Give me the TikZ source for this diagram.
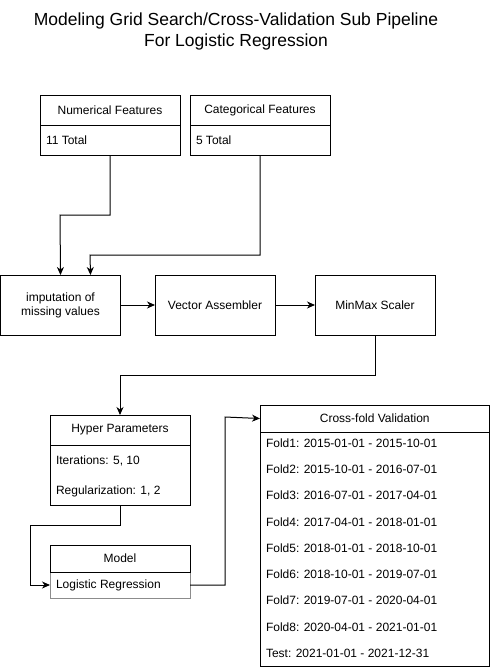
\documentclass[tikz,border=0pt]{standalone}
\usepackage{fontspec}
\setmainfont{Liberation Sans}
\usetikzlibrary{arrows.meta,calc}
\begin{document}
\begin{tikzpicture}[x=1pt,y=-1pt,
  every node/.style={font=\fontsize{12}{14}\selectfont, inner sep=0pt, outer sep=0pt},
  box/.style={draw, line width=1pt, anchor=north west},
  item/.style={anchor=west},
  conn/.style={line width=1pt, -{Stealth[length=8pt,width=7pt,inset=2.5pt]}},
  title/.style={font=\fontsize{17.5}{21}\selectfont, align=center}
]
\useasboundingbox (0,0) rectangle (491,669);
\fill[white] (0,0) rectangle (491,669);

% title
\node[title] (title) at (236,31) {Modeling Grid Search/Cross-Validation Sub Pipeline\\For Logistic Regression};

% Numerical Features
\node[box, minimum width=140pt, minimum height=60pt] (num) at (40,95) {};
\node[box, minimum width=140pt, minimum height=30pt] (numh) at (40,95) {Numerical Features};
\node[item] (numi) at (46,140) {11 Total};

% Categorical Features
\node[box, minimum width=140pt, minimum height=60pt] (cat) at (190,95) {};
\node[box, minimum width=140pt, minimum height=30pt] (cath) at (190,95) {Categorical Features};
\node[item] (cati) at (196,140) {5 Total};

% Pipeline row
\node[box, minimum width=120pt, minimum height=60pt, align=center] (imp) at (0.5,275) {imputation of\\missing values};
\node[box, minimum width=120pt, minimum height=60pt] (vec) at (155,275) {Vector Assembler};
\node[box, minimum width=120pt, minimum height=60pt] (mms) at (315,275) {MinMax Scaler};

% Hyper Parameters
\node[box, minimum width=140pt, minimum height=90pt] (hyp) at (50,415) {};
\node[box, minimum width=140pt, minimum height=30pt] (hyph) at (50,415) {Hyper Parameters};
\node[item] (hyp1) at (56,461) {Iterations: 5, 10};
\node[item] (hyp2) at (56,491) {Regularization: 1, 2};

% Model
\node[box, draw=black!45, minimum width=140pt, minimum height=53pt] (mod) at (50,545) {};
\node[box, minimum width=140pt, minimum height=27pt] (modh) at (50,545) {Model};
\node[item] (modi) at (56,585) {Logistic Regression};

% Cross-fold Validation
\node[box, minimum width=229.5pt, minimum height=261pt] (cv) at (260,405) {};
\node[box, minimum width=229.5pt, minimum height=27pt] (cvh) at (260,405) {Cross-fold Validation};
\node[item] (f1) at (266,443) {Fold1: 2015-01-01 - 2015-10-01};
\node[item] (f2) at (266,469.25) {Fold2: 2015-10-01 - 2016-07-01};
\node[item] (f3) at (266,495.5) {Fold3: 2016-07-01 - 2017-04-01};
\node[item] (f4) at (266,521.75) {Fold4: 2017-04-01 - 2018-01-01};
\node[item] (f5) at (266,548) {Fold5: 2018-01-01 - 2018-10-01};
\node[item] (f6) at (266,574.25) {Fold6: 2018-10-01 - 2019-07-01};
\node[item] (f7) at (266,600.5) {Fold7: 2019-07-01 - 2020-04-01};
\node[item] (f8) at (266,626.75) {Fold8: 2020-04-01 - 2021-01-01};
\node[item] (ft) at (266,653) {Test: 2021-01-01 - 2021-12-31};

% connectors
\coordinate (impin1) at ($(imp.north west)+(60,0)$);
\coordinate (impin2) at ($(imp.north west)+(90,0)$);
\draw[conn] (num.south) |- (60,215) -- (impin1);
\draw[conn] (cat.south) |- (90,255) -- (impin2);
\draw[conn] (imp.east) -- (vec.west);
\draw[conn] (vec.east) -- (mms.west);
\draw[conn] (mms.south) |- (120,375) -- (hyph.north);
\coordinate (modin) at (modi.west -| mod.west);
\draw[conn] (hyp.south) |- (30,525) |- (modin);
\coordinate (modout) at (modi.west -| mod.east);
\draw[conn] (modout) -| (225,417) -- (cvh.west);
\end{tikzpicture}
\end{document}
